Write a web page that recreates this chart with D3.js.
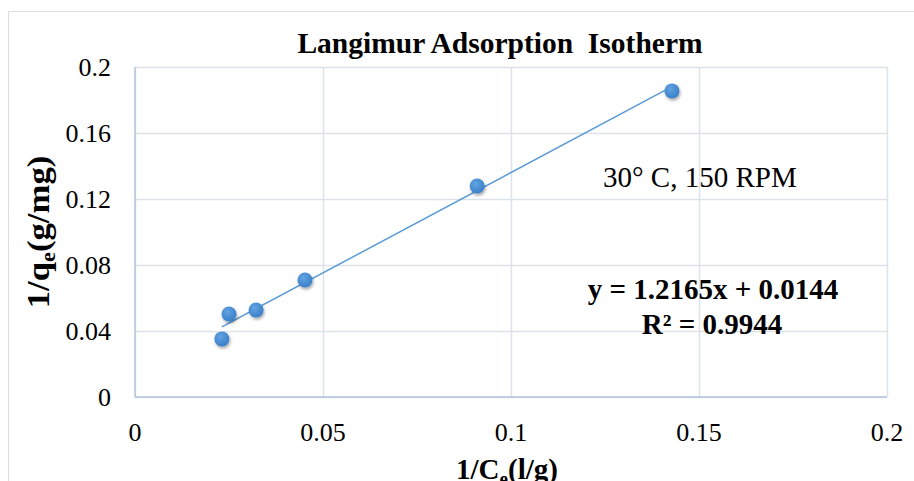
<!DOCTYPE html>
<html>
<head>
<meta charset="utf-8">
<script src="https://cdn.jsdelivr.net/npm/d3@7"></script>
<style>
body { margin: 0; background: #fff; }
text { font-family: "Liberation Serif", "Times New Roman", serif; fill: #000; }
</style>
</head>
<body>
<div id="viz"></div>
<script>
// Data.
var xVals = [0.0231, 0.0250, 0.0322, 0.0452, 0.0910, 0.1428];
var yVals = [0.0352, 0.0503, 0.0527, 0.0709, 0.1279, 0.1855];
var xTicks = [0, 0.05, 0.1, 0.15, 0.2];
var yTicks = [0, 0.04, 0.08, 0.12, 0.16, 0.2];
var slope = 1.2165, intercept = 0.0144;

var W = 914, H = 481;
var pL = 135, pR = 887, pT = 67, pB = 397;

var svg = d3.select("#viz")
	.append("svg")
	.attr("width", W)
	.attr("height", H);

var x = d3.scaleLinear().domain([0, 0.2]).range([pL, pR]);
var y = d3.scaleLinear().domain([0, 0.2]).range([pB, pT]);

// Marker look.
var defs = svg.append("defs");
var grad = defs.append("radialGradient")
	.attr("id", "ball")
	.attr("cx", "40%").attr("cy", "35%").attr("r", "65%");
grad.append("stop").attr("offset", "0%").attr("stop-color", "#62a3e2");
grad.append("stop").attr("offset", "100%").attr("stop-color", "#3a80c8");
var shadow = defs.append("filter").attr("id", "shadow")
	.attr("x", "-50%").attr("y", "-50%").attr("width", "200%").attr("height", "200%");
shadow.append("feDropShadow")
	.attr("dx", 1).attr("dy", 2).attr("stdDeviation", 1.8)
	.attr("flood-color", "#000").attr("flood-opacity", 0.35);

// Chart border.
svg.append("rect")
	.attr("x", 8.5).attr("y", 11.5)
	.attr("width", W + 10).attr("height", H + 10)
	.style("fill", "none")
	.style("stroke", "#d9dde3");

// Gridlines.
svg.append("g")
	.attr("transform", "translate(0," + pB + ")")
	.call(d3.axisBottom(x).tickValues(xTicks).tickSize(-(pB - pT)).tickFormat(""))
	.call(function (g) {
		g.select(".domain").remove();
		g.selectAll("line").style("stroke", "#dde1e8").style("stroke-width", 1.5);
	});
svg.append("g")
	.attr("transform", "translate(" + pL + ",0)")
	.call(d3.axisLeft(y).tickValues(yTicks).tickSize(-(pR - pL)).tickFormat(""))
	.call(function (g) {
		g.select(".domain").remove();
		g.selectAll("line").style("stroke", "#dde1e8").style("stroke-width", 1.5);
	});

// Axis lines.
svg.append("line")
	.attr("x1", pL).attr("x2", pR).attr("y1", pB).attr("y2", pB)
	.style("stroke", "#b4c3de").style("stroke-width", 1.5);
svg.append("line")
	.attr("x1", pL).attr("x2", pL).attr("y1", pT).attr("y2", pB)
	.style("stroke", "#b4c3de").style("stroke-width", 1.5);

// Tick labels.
svg.append("g").selectAll("text")
	.data(yTicks)
	.enter().append("text")
	.attr("x", 111)
	.attr("y", function (d) { return y(d) + 9; })
	.attr("text-anchor", "end")
	.style("font-size", "26px")
	.text(function (d) { return d; });
svg.append("g").selectAll("text")
	.data(xTicks)
	.enter().append("text")
	.attr("x", function (d) { return x(d); })
	.attr("y", 441)
	.attr("text-anchor", "middle")
	.style("font-size", "26px")
	.text(function (d) { return d; });

// Trendline.
var xMin = d3.min(xVals), xMax = d3.max(xVals);
svg.append("line")
	.attr("x1", x(xMin)).attr("y1", y(slope * xMin + intercept))
	.attr("x2", x(xMax)).attr("y2", y(slope * xMax + intercept))
	.style("stroke", "#5b9bd5")
	.style("stroke-width", 1.5);

// Points.
svg.append("g").selectAll("circle")
	.data(xVals)
	.enter().append("circle")
	.attr("cx", function (d) { return x(d); })
	.attr("cy", function (d, i) { return y(yVals[i]); })
	.attr("r", 7.5)
	.style("fill", "url(#ball)")
	.attr("filter", "url(#shadow)");

// Title.
svg.append("text")
	.attr("x", 500).attr("y", 53)
	.attr("text-anchor", "middle")
	.style("font-size", "29.5px")
	.style("font-weight", "bold")
	.style("white-space", "pre")
	.text("Langimur Adsorption  Isotherm");

// Axis titles.
var xt = svg.append("text")
	.attr("x", 507).attr("y", 479)
	.attr("text-anchor", "middle")
	.style("font-size", "29px")
	.style("font-weight", "bold");
xt.append("tspan").text("1/C");
xt.append("tspan").attr("dy", 6).style("font-size", "19px").text("e");
xt.append("tspan").attr("dy", -6).text("(l/g)");

var yt = svg.append("text")
	.attr("transform", "translate(49,232) rotate(-90) scale(1.12,1)")
	.attr("text-anchor", "middle")
	.style("font-size", "31px")
	.style("font-weight", "bold");
yt.append("tspan").text("1/q");
yt.append("tspan").attr("dy", 6).style("font-size", "20px").text("e");
yt.append("tspan").attr("dy", -6).text("(g/mg)");

// Annotations.
svg.append("text")
	.attr("x", 603).attr("y", 187)
	.style("font-size", "29px")
	.text("30° C, 150 RPM");
svg.append("text")
	.attr("x", 713).attr("y", 299)
	.attr("text-anchor", "middle")
	.style("font-size", "29px")
	.style("font-weight", "bold")
	.text("y = 1.2165x + 0.0144");
svg.append("text")
	.attr("x", 712).attr("y", 334)
	.attr("text-anchor", "middle")
	.style("font-size", "29px")
	.style("font-weight", "bold")
	.text("R² = 0.9944");
</script>
</body>
</html>
